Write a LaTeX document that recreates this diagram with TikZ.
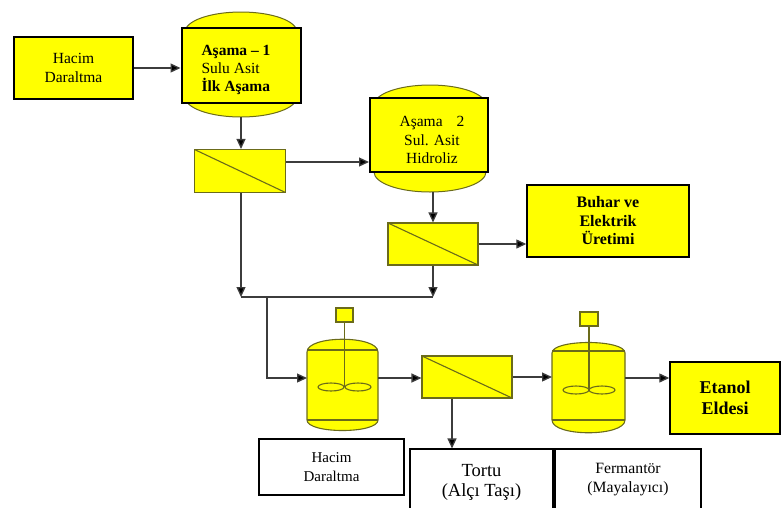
\documentclass[tikz,border=0pt]{standalone}
\usepackage{fontspec}
\setmainfont{Liberation Serif}
\usetikzlibrary{arrows.meta}
\definecolor{yel}{HTML}{FFFF00}
\definecolor{olv}{HTML}{6B6B1A}
\definecolor{lineg}{HTML}{3C3C3C}
\begin{document}
\begin{tikzpicture}[x=1pt,y=-1pt,
  ybox/.style={draw=black, line width=1.4pt, fill=yel, inner sep=2pt, align=center},
  wbox/.style={draw=black, line width=1.1pt, fill=white, inner sep=2pt, align=center},
  vrect/.style={draw=black, line width=2pt, fill=yel},
  vcap/.style={draw=olv, line width=1pt, fill=yel},
  filt/.style={draw=olv, line width=1.1pt, fill=yel, minimum width=91pt, minimum height=43pt, inner sep=0pt,
    path picture={\draw[olv, line width=1.1pt] (path picture bounding box.north west) -- (path picture bounding box.south east);}},
  reac/.style={draw=olv, line width=1.1pt, fill=yel},
  conn/.style={draw=lineg, line width=1.3pt, -{Triangle[length=10pt,width=9pt,fill=black]}},
  plain/.style={draw=lineg, line width=1.3pt}]
\useasboundingbox (0,0) rectangle (781,507);
\clip (0,0) rectangle (781,507);

% vessel capsules
\draw[vcap] (185,32) arc[start angle=180,end angle=360,x radius=56,y radius=20] -- (297,97) arc[start angle=0,end angle=180,x radius=56,y radius=20] -- cycle;
\draw[vcap] (374,105) arc[start angle=180,end angle=360,x radius=56,y radius=20] -- (486,172) arc[start angle=0,end angle=180,x radius=56,y radius=20] -- cycle;

% boxes
\node[ybox, minimum width=119pt, minimum height=62pt, font=\fontsize{15.5}{19}\selectfont] (h1) at (73.5,68) {Hacim\\Daraltma};
\node[vrect, minimum width=119pt, minimum height=75pt] (v1) at (241,65.5) {};
\node[anchor=west, align=left, font=\fontsize{15.5}{18}\selectfont] (v1t) at (198,70) {\textbf{Aşama – 1}\\Sulu Asit\\\textbf{İlk Aşama}};
\node[filt] (f1) at (240,171) {};
\node[vrect, minimum width=118pt, minimum height=74pt] (v2) at (429,135) {};
\node[align=center, font=\fontsize{15.5}{18.5}\selectfont] (v2t) at (432,140) {Aşama\hspace{14pt}2\\Sul. Asit\\Hidroliz};
\node[filt, minimum width=90pt, minimum height=42pt] (f2) at (433,244) {};
\node[ybox, minimum width=162pt, minimum height=72pt, font=\bfseries\fontsize{16}{18.5}\selectfont] (buhar) at (608,221) {Buhar ve\\Elektrik\\Üretimi};
\node[filt, minimum width=90pt, minimum height=42pt] (f3) at (467,377) {};
\node[ybox, minimum width=110pt, minimum height=72pt, font=\bfseries\fontsize{18}{21}\selectfont] (etanol) at (725,398) {Etanol\\Eldesi};
\node[wbox, minimum width=145pt, minimum height=56pt, font=\fontsize{15}{19}\selectfont] (h2) at (331.5,467) {Hacim\\Daraltma};
\node[wbox, minimum width=143pt, minimum height=66pt, font=\fontsize{18.5}{20}\selectfont] (tortu) at (481.5,482) {Tortu\\(Alçı Taşı)};
\node[wbox, minimum width=146pt, minimum height=62pt, font=\fontsize{15.7}{19}\selectfont] (ferm) at (628,480) {Fermantör\\(Mayalayıcı)};

% reactor 1
\draw[reac] (307,420) -- (307,352) .. controls (307,335) and (378,335) .. (378,352) -- (378,420) .. controls (378,434) and (307,434) .. cycle;
\draw[reac] (307,350) -- (378,350);
\draw[reac] (307,420) -- (378,420);
\draw[reac] (336,308) rectangle (353,322);
\draw[olv, line width=1.1pt] (344.5,322) -- (344.5,387);
\draw[reac] (331,387) ellipse[x radius=13, y radius=4];
\draw[reac] (358,387) ellipse[x radius=13, y radius=4];

% reactor 2
\draw[reac] (552,420) -- (552,353) .. controls (552,339) and (625,339) .. (625,353) -- (625,420) .. controls (625,437) and (552,437) .. cycle;
\draw[reac] (552,351) -- (625,351);
\draw[reac] (552,420) -- (625,420);
\draw[reac] (580,312) rectangle (598,326);
\draw[olv, line width=1.1pt] (589,326) -- (589,390);
\draw[reac] (576,390) ellipse[x radius=13, y radius=4];
\draw[reac] (602,390) ellipse[x radius=13, y radius=4];

% coordinates
\coordinate (v1b) at (241,117);
\coordinate (v2b) at (433,192);
\coordinate (f1o) at ([yshift=9pt]f1.east);
\coordinate (j1) at (241,297);
\coordinate (j2) at (433,297);
\coordinate (j3) at (267,297);
\coordinate (r1w) at (307,378);
\coordinate (r1e) at (378,378);
\coordinate (r2w) at (552,378);
\coordinate (r2e) at (625,378);
\coordinate (f3o) at ([xshift=-15pt]f3.south);

% connectors
\draw[conn] (h1.east) -- (h1.east -| v1.west);
\draw[conn] (v1b) -- (v1b |- f1.north);
\draw[conn] (f1o) -- (f1o -| v2.west);
\draw[conn] (v2b) -- (v2b |- f2.north);
\draw[conn] (f2.east) -- (f2.east -| buhar.west);
\draw[conn] (v1b |- f1.south) -- (j1);
\draw[conn] (f2.south) -- (j2);
\draw[plain] (j1) -- (j2);
\draw[conn] (j3) |- (r1w);
\draw[conn] (r1e) -- (r1e -| f3.west);
\draw[conn] (f3.east) -- (f3.east -| r2w);
\draw[conn] (r2e) -- (r2e -| etanol.west);
\draw[conn] (f3o) -- (f3o |- tortu.north);
\end{tikzpicture}
\end{document}
